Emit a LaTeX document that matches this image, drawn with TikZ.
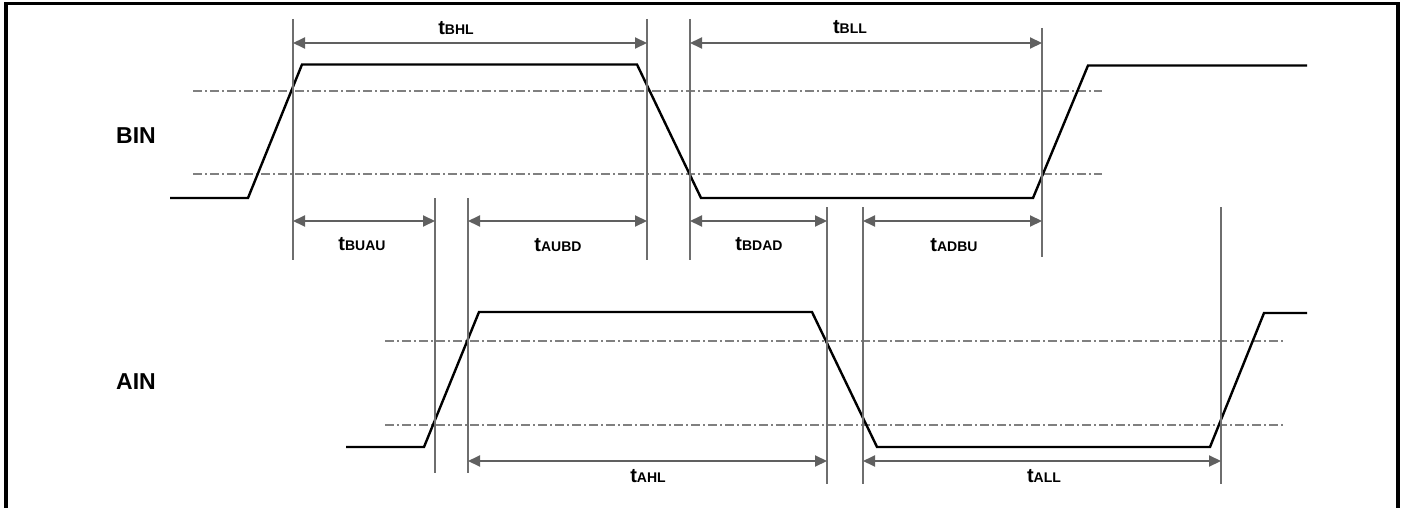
\documentclass[tikz,border=0pt]{standalone}
\usepackage{fontspec}
\setmainfont{Liberation Sans}
\usetikzlibrary{arrows.meta}
\definecolor{dimgray}{HTML}{606060}
\definecolor{thrgray}{HTML}{808080}
\definecolor{vgray}{HTML}{6E6E6E}
\newcommand{\tlab}[1]{{\fontsize{20}{20}\selectfont\bfseries t}{\fontsize{14}{14}\selectfont\bfseries #1}}
\begin{document}
\begin{tikzpicture}[x=1pt,y=-1pt,
  frame/.style={line width=3.5pt,black},
  signal/.style={line width=2.4pt,black,line join=miter},
  thresh/.style={line width=1.4pt,thrgray,dash pattern=on 9pt off 3pt on 2pt off 3pt},
  vline/.style={line width=1.4pt,vgray},
  dimarrow/.style={line width=2pt,dimgray,{Triangle[length=12pt,width=11pt]}-{Triangle[length=12pt,width=11pt]}},
  lab/.style={anchor=base,inner sep=0pt},
  sig/.style={anchor=base,inner sep=0pt,font=\fontsize{23}{23}\selectfont\bfseries}]
\useasboundingbox (0,0) rectangle (1407,508);
% frame (open at bottom)
\draw[frame] (6,510) -- (6,3.7) -- (1398,3.7) -- (1398,510);

% signal names
\node[sig] (BIN) at (136,143) {BIN};
\node[sig] (AIN) at (136,389) {AIN};

% thresholds
\draw[thresh] (193,91) -- (1102,91);
\draw[thresh] (193,174) -- (1102,174);
\draw[thresh] (385,341) -- (1283,341);
\draw[thresh] (385,425) -- (1283,425);

% waveforms
\draw[signal] (170,198) -- (248,198) -- (302,64.5) -- (637,64.5) -- (701,198) -- (1033,198) -- (1088,65.5) -- (1307,65.5);
\draw[signal] (346,447) -- (424,447) -- (479,312) -- (812,312) -- (877,447) -- (1210,447) -- (1264,313) -- (1307,313);

% vertical reference lines
\coordinate (v1t) at (293,19);  \coordinate (v1b) at (293,260);
\coordinate (v2t) at (647,19);  \coordinate (v2b) at (647,260);
\coordinate (v3t) at (690,19);  \coordinate (v3b) at (690,260);
\coordinate (v4t) at (1042,28); \coordinate (v4b) at (1042,257);
\coordinate (v5t) at (435,198); \coordinate (v5b) at (435,473);
\coordinate (v6t) at (468,198); \coordinate (v6b) at (468,473);
\coordinate (v7t) at (827,207); \coordinate (v7b) at (827,484);
\coordinate (v8t) at (863,207); \coordinate (v8b) at (863,484);
\coordinate (v9t) at (1221,207);\coordinate (v9b) at (1221,484);
\foreach \v in {v1,v2,v3,v4,v5,v6,v7,v8,v9} \draw[vline] (\v t) -- (\v b);

% arrow end points
\coordinate (a1u) at (293,43);  \coordinate (a2u) at (647,43);
\coordinate (a3u) at (690,43);  \coordinate (a4u) at (1042,43);
\coordinate (a1m) at (293,221); \coordinate (a5m) at (435,221);
\coordinate (a6m) at (468,221); \coordinate (a2m) at (647,221);
\coordinate (a3m) at (690,221); \coordinate (a7m) at (827,221);
\coordinate (a8m) at (863,221); \coordinate (a4m) at (1042,221);
\coordinate (a6l) at (468,461); \coordinate (a7l) at (827,461);
\coordinate (a8l) at (863,461); \coordinate (a9l) at (1221,461);

\draw[dimarrow] (a1u) -- (a2u);
\draw[dimarrow] (a3u) -- (a4u);
\draw[dimarrow] (a1m) -- (a5m);
\draw[dimarrow] (a6m) -- (a2m);
\draw[dimarrow] (a3m) -- (a7m);
\draw[dimarrow] (a8m) -- (a4m);
\draw[dimarrow] (a6l) -- (a7l);
\draw[dimarrow] (a8l) -- (a9l);

% labels
\node[lab] (tBHL)  at (456,35)   {\tlab{BHL}};
\node[lab] (tBLL)  at (850,34)   {\tlab{BLL}};
\node[lab] (tBUAU) at (362,250)  {\tlab{BUAU}};
\node[lab] (tAUBD) at (558,251)  {\tlab{AUBD}};
\node[lab] (tBDAD) at (759,250)  {\tlab{BDAD}};
\node[lab] (tADBU) at (954,251)  {\tlab{ADBU}};
\node[lab] (tAHL)  at (648,482)  {\tlab{AHL}};
\node[lab] (tALL)  at (1044,482) {\tlab{ALL}};
\end{tikzpicture}
\end{document}
